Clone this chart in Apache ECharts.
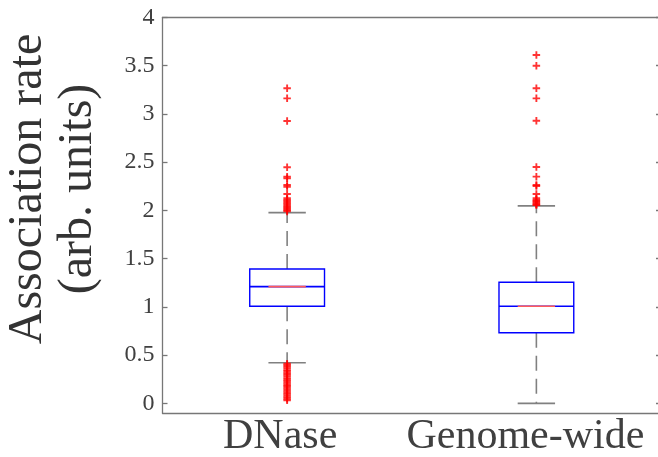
<!DOCTYPE html>
<html>
<head>
<meta charset="utf-8">
<script src="https://cdn.jsdelivr.net/npm/echarts@6/dist/echarts.min.js"></script>
<style>
html,body{margin:0;padding:0;background:#fff;}
#chart{width:658px;height:457px;}
</style>
</head>
<body>
<div id="chart"></div>
<script>
// ---- data ----
const categories = ['DNase', 'Genome-wide'];
const whiskerLow  = [0.421, 0.0];
const q1          = [1.006, 0.732];
const median      = [1.21, 1.006];
const q3          = [1.393, 1.255];
const whiskerHigh = [1.977, 2.047];
const dnaseOutliers = [
  3.266, 3.162, 2.927, 2.447, 2.350, 2.333, 2.264, 2.246, 2.170,
  2.126, 2.11, 2.095, 2.08, 2.065, 2.05, 2.04, 2.025, 2.01, 2.0, 1.99,
  0.41, 0.395, 0.38, 0.362, 0.345, 0.33, 0.312, 0.296, 0.28, 0.262, 0.245,
  0.23, 0.212, 0.196, 0.18, 0.163, 0.147, 0.13, 0.114, 0.098, 0.081, 0.065,
  0.048, 0.032
];
const genomeOutliers = [
  3.611, 3.50, 3.266, 3.162, 2.93, 2.45, 2.35, 2.264, 2.253, 2.17,
  2.126, 2.11, 2.098, 2.085, 2.072, 2.062, 2.055
];
const yTicks = [0, 0.5, 1, 1.5, 2, 2.5, 3, 3.5, 4];
const yLabel = 'Association rate\n(arb. units)';

// ---- styles ----
const axisColor = '#777777';
const textColor = '#404040';
const fontFam = '"Liberation Serif", "DejaVu Serif", serif';
const plus = 'path://M3,0h2v3h3v2h-3v3h-2v-3h-3v-2h3z';

const boxData = categories.map((c, i) => [i, whiskerLow[i], q1[i], median[i], q3[i], whiskerHigh[i]]);

function renderBox(params, api) {
  const i = api.value(0);
  const pLow = api.coord([i, api.value(1)]);
  const pQ1 = api.coord([i, api.value(2)]);
  const pMed = api.coord([i, api.value(3)]);
  const pQ3 = api.coord([i, api.value(4)]);
  const pHigh = api.coord([i, api.value(5)]);
  const band = api.size([1, 0])[0];
  const bh = band * 0.15;
  const ch = band * 0.075;
  const x = pMed[0];
  const gray = {stroke: '#808080', lineWidth: 1.6};
  const dash = {stroke: '#808080', lineWidth: 1.6, lineDash: [15, 8]};
  return {
    type: 'group',
    children: [
      {type: 'line', shape: {x1: x, y1: pQ3[1], x2: x, y2: pHigh[1]}, style: dash},
      {type: 'line', shape: {x1: x, y1: pQ1[1], x2: x, y2: pLow[1]}, style: dash},
      {type: 'line', shape: {x1: x - ch, y1: pHigh[1], x2: x + ch, y2: pHigh[1]}, style: gray},
      {type: 'line', shape: {x1: x - ch, y1: pLow[1], x2: x + ch, y2: pLow[1]}, style: gray},
      {type: 'rect', shape: {x: x - bh, y: pQ3[1], width: 2 * bh, height: pQ1[1] - pQ3[1]},
        style: {fill: 'none', stroke: '#0000ff', lineWidth: 1.4}},
      {type: 'line', shape: {x1: x - bh, y1: pMed[1], x2: x + bh, y2: pMed[1]},
        style: {stroke: '#0000ff', lineWidth: 1.6}},
      {type: 'line', shape: {x1: x - ch, y1: pMed[1], x2: x + ch, y2: pMed[1]},
        style: {stroke: '#ff5a5a', lineWidth: 1.6}}
    ]
  };
}

const chart = echarts.init(document.getElementById('chart'), null, {renderer: 'canvas'});
chart.setOption({
  animation: false,
  backgroundColor: '#ffffff',
  grid: {left: 162.5, top: 17.5, width: 498.5, height: 395.5, outerBoundsMode: 'none', containLabel: false},
  xAxis: [
    {
      type: 'category', data: categories, position: 'bottom', boundaryGap: true,
      axisLine: {onZero: false, lineStyle: {color: axisColor, width: 1.3}},
      axisTick: {inside: true, length: 6, alignWithLabel: true, lineStyle: {color: axisColor, width: 1.3}},
      axisLabel: {
        interval: 0, fontFamily: fontFam, fontSize: 42, color: textColor, margin: 3,
        formatter: (v, i) => '{c' + i + '|' + v + '}',
        rich: {
          c0: {fontFamily: fontFam, fontSize: 42, color: textColor, padding: [0, 14, 0, 0]},
          c1: {fontFamily: fontFam, fontSize: 42, color: textColor, padding: [0, 22, 0, 0]}
        }
      },
      splitLine: {show: false}
    },
    {
      type: 'category', data: categories, position: 'top', boundaryGap: true,
      axisLine: {onZero: false, lineStyle: {color: axisColor, width: 1.3}},
      axisTick: {inside: true, length: 6, alignWithLabel: true, lineStyle: {color: axisColor, width: 1.3}},
      axisLabel: {show: false},
      splitLine: {show: false}
    }
  ],
  yAxis: [
    {
      type: 'value', min: -0.1, max: 4, position: 'left',
      axisLine: {show: true, onZero: false, lineStyle: {color: axisColor, width: 1.3}},
      axisTick: {show: true, inside: true, length: 5, customValues: yTicks, lineStyle: {color: axisColor, width: 1.3}},
      axisLabel: {customValues: yTicks, fontFamily: fontFam, fontSize: 24, color: textColor, margin: 8},
      splitLine: {show: false}
    },
    {
      type: 'value', min: -0.1, max: 4, position: 'right',
      axisLine: {show: true, onZero: false, lineStyle: {color: axisColor, width: 1.3}},
      axisTick: {show: true, inside: true, length: 5, customValues: yTicks, lineStyle: {color: axisColor, width: 1.3}},
      axisLabel: {show: false},
      splitLine: {show: false}
    }
  ],
  graphic: [{
    type: 'text',
    x: 53, y: 189,
    rotation: Math.PI / 2,
    style: {
      text: yLabel, fontFamily: fontFam, fontSize: 48, lineHeight: 50,
      fill: '#333333', align: 'center', verticalAlign: 'middle'
    }
  }],
  series: [
    {
      type: 'custom', xAxisIndex: 0, yAxisIndex: 0,
      data: boxData, encode: {x: 0, y: [1, 2, 3, 4, 5]},
      renderItem: renderBox, z: 2
    },
    {
      type: 'scatter', xAxisIndex: 0, yAxisIndex: 0, symbol: plus, symbolSize: 7.5,
      itemStyle: {color: '#ff0000'}, z: 3,
      data: dnaseOutliers.map(v => [0, v])
    },
    {
      type: 'scatter', xAxisIndex: 0, yAxisIndex: 0, symbol: plus, symbolSize: 7.5,
      itemStyle: {color: '#ff0000'}, z: 3,
      data: genomeOutliers.map(v => [1, v])
    }
  ]
});
</script>
</body>
</html>
